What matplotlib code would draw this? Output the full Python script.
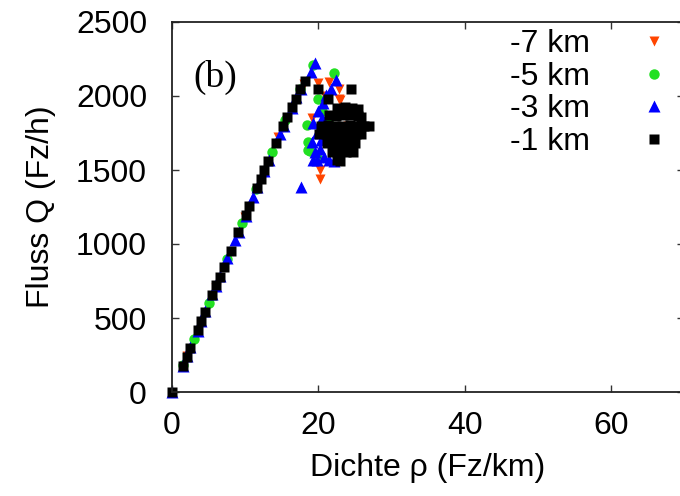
import matplotlib
matplotlib.use("Agg")
import matplotlib.pyplot as plt

# -7 km (orange, triangle down)
x7 = [2.0, 6.0, 10.0, 14.5, 18.0, 21.5, 22.9, 19.1, 20.2, 20.2, 23.0, 20.9, 20.0, 22.8, 21.0, 24.0]
y7 = [240, 700, 1180, 1720, 2080, 2097, 1978, 1849, 1500, 1437, 1973, 2000, 2088, 2050, 1700, 1800]

# -5 km (green, circle)
x5 = [1.5, 3.0, 5.0, 7.5, 9.57, 11.5, 13.7, 15.5, 17.5, 19.3,
      22.2, 19.9, 18.4, 18.6, 18.6, 18.9, 20.5, 21.5, 19.8, 22.5]
y5 = [180, 358, 600, 900, 1140, 1370, 1619, 1840, 2050, 2210,
      2158, 1978, 1804, 1687, 1635, 1630, 1900, 1850, 1580, 1700]

# -3 km (blue, triangle up)
x3 = [0, 1.5, 2.1, 2.5, 3.5, 4.0, 4.5, 5.5, 6.0, 6.5, 7.47, 8.6, 9.1, 10.1, 11.1, 11.6,
      12.6, 13.2, 14.7, 15.3, 16.4, 17.0, 17.6, 18.96, 19.6,
      22.4, 19.3, 19.1, 19.3, 17.6, 20.0, 20.6, 19.8, 20.2, 20.8, 21.5, 22.2, 21.0,
      21.8, 20.5, 19.6, 20.4, 21.0, 19.8]
y3 = [0, 175, 240, 305, 415, 480, 545, 660, 715, 785, 903, 1027, 1080, 1190, 1320, 1385,
      1495, 1570, 1743, 1800, 1920, 1990, 2050, 2164, 2225,
      2108, 1815, 1692, 1568, 1387, 1900, 1950, 1750, 1640, 1590, 1565, 1560, 2010,
      2050, 1850, 1620, 1700, 1760, 1570]

# -1 km (black, square)
x1 = [0, 1.46, 2.0, 2.46, 3.5, 3.96, 4.5, 5.47, 5.97, 6.5, 7.1, 8.0, 9.07, 10.1, 10.5,
      11.6, 12.1, 12.6, 13.1, 14.2, 15.2, 15.7, 16.4, 16.9, 17.5, 18.2,
      20.0, 21.3, 24.5,
      22.6, 23.6, 24.6, 25.4,
      21.4, 22.4, 23.4, 24.4, 25.4, 25.9,
      20.4, 21.3, 22.3, 23.3, 24.3, 25.3, 26.2, 27.0,
      20.1, 21.1, 22.1, 23.1, 24.1, 25.1, 25.8,
      21.2, 22.2, 23.2, 24.2, 25.0,
      21.9, 22.8, 23.8, 24.8,
      22.5, 23.0]
y1 = [0, 178, 238, 300, 419, 482, 543, 657, 721, 779, 842, 955, 1083, 1196, 1257,
      1378, 1439, 1500, 1563, 1680, 1797, 1860, 1923, 1982, 2045, 2103,
      2045, 1980, 2045,
      1920, 1925, 1920, 1915,
      1870, 1865, 1870, 1870, 1865, 1860,
      1800, 1805, 1800, 1800, 1805, 1800, 1800, 1800,
      1740, 1745, 1740, 1740, 1740, 1745, 1740,
      1680, 1685, 1680, 1680, 1680,
      1620, 1625, 1620, 1620,
      1565, 1560]

labels = ["-7 km", "-5 km", "-3 km", "-1 km"]
xticks = [0, 20, 40, 60]
yticks = [0, 500, 1000, 1500, 2000, 2500]

plt.rcParams['font.family'] = ['Liberation Sans', 'DejaVu Sans']
fig = plt.figure(figsize=(6.8, 4.96), dpi=100)
ax = fig.add_axes([172/680, 104/496, 512/680, 370/496])

ax.plot(x7, y7, linestyle='none', marker='v', ms=7, color='#ff4500', mec='none', label=labels[0], clip_on=False)
ax.plot(x5, y5, linestyle='none', marker='o', ms=7.5, color='#22e022', mec='none', label=labels[1], clip_on=False)
ax.plot(x3, y3, linestyle='none', marker='^', ms=9, color='#0000ff', mec='none', label=labels[2], clip_on=False)
ax.plot(x1, y1, linestyle='none', marker='s', ms=7.5, color='black', mec='none', label=labels[3], clip_on=False)

ax.set_xlim(0, 70)
ax.set_ylim(0, 2500)
ax.set_xticks(xticks)
ax.set_yticks(yticks)
ax.tick_params(direction='in', length=5, width=1, top=True, right=True, labelsize=23,
               colors='#333333', labelcolor='black')
ax.tick_params(axis='x', pad=14)
ax.tick_params(axis='y', pad=18)
for s in ax.spines.values():
    s.set_linewidth(1.3)
    s.set_color('#222222')

ax.set_xlabel("Dichte ρ (Fz/km)", fontsize=23, labelpad=8)
ax.set_ylabel("Fluss Q (Fz/h)", fontsize=23, labelpad=14)

ax.text(0.041, 0.851, "(b)", transform=ax.transAxes, fontsize=27,
        family=['Liberation Serif', 'DejaVu Serif'], va='center', ha='left')

leg = ax.legend(loc='upper right', bbox_to_anchor=(692/680, 489/496), bbox_transform=fig.transFigure,
                frameon=False, markerfirst=False, fontsize=23, labelspacing=0.08,
                handlelength=1.0, handletextpad=1.5, borderpad=0.2)

fig.savefig("out.png", dpi=100)
